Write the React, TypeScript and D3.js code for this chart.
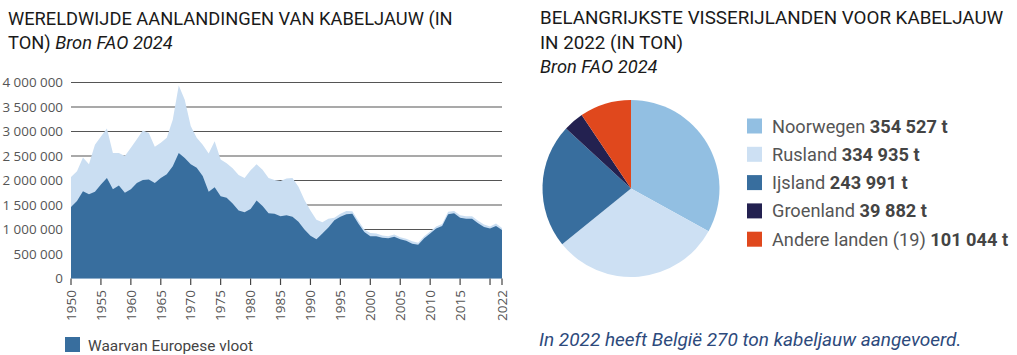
import React from "react";
import * as d3 from "d3";

const years: number[] = d3.range(1950, 2023);
// thousands of tonnes
const totalLandings: number[] = [
  2070, 2190, 2470, 2330, 2730, 2900, 3060, 2560, 2560, 2500,
  2670, 2840, 3020, 2970, 2690, 2770, 2870, 3240, 3940, 3650,
  3110, 2870, 2730, 2550, 2800, 2430, 2350, 2250, 2110, 2050,
  2210, 2330, 2220, 2050, 2010, 1990, 2040, 2050, 1870, 1600,
  1390, 1200, 1150, 1220, 1240, 1320, 1380, 1370, 1180, 1000,
  930, 920, 880, 860, 900, 840, 810, 760, 730, 860,
  960, 1060, 1110, 1360, 1380, 1290, 1270, 1270, 1180, 1100,
  1060, 1120, 1030,
];
const europeLandings: number[] = [
  1460, 1580, 1780, 1720, 1770, 1920, 2050, 1820, 1900, 1750,
  1820, 1950, 2010, 2020, 1950, 2050, 2130, 2290, 2560, 2460,
  2330, 2260, 2090, 1770, 1860, 1680, 1650, 1530, 1390, 1350,
  1420, 1590, 1480, 1330, 1320, 1270, 1290, 1260, 1160, 1000,
  870, 800, 920, 1040, 1190, 1260, 1310, 1320, 1120, 950,
  860, 860, 830, 820, 850, 800, 770, 710, 690, 820,
  920, 1020, 1070, 1310, 1330, 1240, 1220, 1220, 1130, 1050,
  1020, 1070, 990,
];
const yTicks: number[] = [0, 500000, 1000000, 1500000, 2000000, 2500000, 3000000, 3500000, 4000000];
const xTicks: number[] = [1950, 1955, 1960, 1965, 1970, 1975, 1980, 1985, 1990, 1995, 2000, 2005, 2010, 2015, 2020, 2022];
const xLabels: number[] = [1950, 1955, 1960, 1965, 1970, 1975, 1980, 1985, 1990, 1995, 2000, 2005, 2010, 2015, 2022];

const countries: string[] = ["Noorwegen", "Rusland", "Ijsland", "Groenland", "Andere landen (19)"];
const countryValues: number[] = [354527, 334935, 243991, 39882, 101044];
const countryColors: string[] = ["#92bfe2", "#cde0f3", "#386e9e", "#232150", "#e0481d"];

const fmt = (v: number) => d3.format(",")(v).replace(/,/g, " ");

export default function App() {
  const x = d3.scaleLinear().domain([1950, 2022]).range([71, 502]);
  const y = d3.scaleLinear().domain([0, 4000000]).range([278.5, 82.5]);
  const totalArea = d3
    .area<number>()
    .x((d, i) => x(years[i]))
    .y0(y(0))
    .y1((d) => y(d * 1000));
  const euArea = d3
    .area<number>()
    .x((d, i) => x(years[i]))
    .y0(y(0))
    .y1((d) => y(d * 1000));

  const pie = d3.pie<number>().sort(null).value((d) => d)(countryValues);
  const arc = d3.arc<d3.PieArcDatum<number>>().innerRadius(0).outerRadius(88.5);
  const cx = 631;
  const cy = 188.5;

  const legendY = (i: number) => 118.5 + i * 28.3;

  return (
    <svg
      width={1017}
      height={355}
      style={{ position: "absolute", left: 0, top: 0, display: "block", background: "#fff" }}
    >
      {/* Left title */}
      <text x={8} y={25} fontFamily="Roboto" fontSize={18.3} fill="#1a1a1a">
        WERELDWIJDE AANLANDINGEN VAN KABELJAUW (IN
      </text>
      <text x={8} y={48.5} fontFamily="Roboto" fontSize={18.3} fill="#1a1a1a">
        TON) <tspan fontStyle="italic">Bron FAO 2024</tspan>
      </text>

      {/* gridlines */}
      {yTicks.slice(1).map((t) => (
        <line key={t} x1={71} x2={502} y1={y(t)} y2={y(t)} stroke="#555" strokeWidth={1.2} />
      ))}
      {yTicks.map((t) => (
        <text
          key={"l" + t}
          x={63}
          y={y(t)}
          dy="0.35em"
          textAnchor="end"
          fontFamily="Open Sans"
          fontSize={13.4}
          fill="#555"
        >
          {fmt(t)}
        </text>
      ))}

      <path d={totalArea(totalLandings) || ""} fill="#cadef2" />
      <path d={euArea(europeLandings) || ""} fill="#386e9e" />

      {/* x ticks */}
      {xTicks.map((t) => (
        <line key={"t" + t} x1={x(t)} x2={x(t)} y1={278.5} y2={285} stroke="#444" strokeWidth={1.2} />
      ))}
      {xLabels.map((t) => (
        <text
          key={"x" + t}
          transform={`translate(${x(t)},290) rotate(-90)`}
          dy="0.35em"
          textAnchor="end"
          fontFamily="Open Sans"
          fontSize={13.5}
          fill="#555"
        >
          {t}
        </text>
      ))}

      {/* area legend */}
      <rect x={65} y={337} width={15} height={15} fill="#386e9e" />
      <text x={88} y={351} fontFamily="Roboto" fontSize={15.4} fill="#444">
        Waarvan Europese vloot
      </text>

      {/* Right title */}
      <text x={540} y={24} fontFamily="Roboto" fontSize={18.8} fill="#1a1a1a">
        BELANGRIJKSTE VISSERIJLANDEN VOOR KABELJAUW
      </text>
      <text x={540} y={48.5} fontFamily="Roboto" fontSize={18.8} fill="#1a1a1a">
        IN 2022 (IN TON)
      </text>
      <text x={540} y={73} fontFamily="Roboto" fontSize={18.3} fontStyle="italic" fill="#1a1a1a">
        Bron FAO 2024
      </text>

      {/* Pie */}
      <g transform={`translate(${cx},${cy})`}>
        {pie.map((p, i) => (
          <path key={countries[i]} d={arc(p) || ""} fill={countryColors[i]} />
        ))}
      </g>

      {/* Pie legend */}
      {countries.map((c, i) => (
        <g key={"lg" + c}>
          <rect x={747} y={legendY(i)} width={15} height={15} fill={countryColors[i]} />
          <text x={772} y={legendY(i) + 14} fontFamily="Roboto" fontSize={18.2} fill="#555">
            {c + " "}
            <tspan fontWeight="bold" fill="#444">
              {fmt(countryValues[i]) + " t"}
            </tspan>
          </text>
        </g>
      ))}

      <text x={539} y={346} fontFamily="Roboto" fontSize={19} fontStyle="italic" fill="#2d4a7c">
        In 2022 heeft België 270 ton kabeljauw aangevoerd.
      </text>
    </svg>
  );
}
